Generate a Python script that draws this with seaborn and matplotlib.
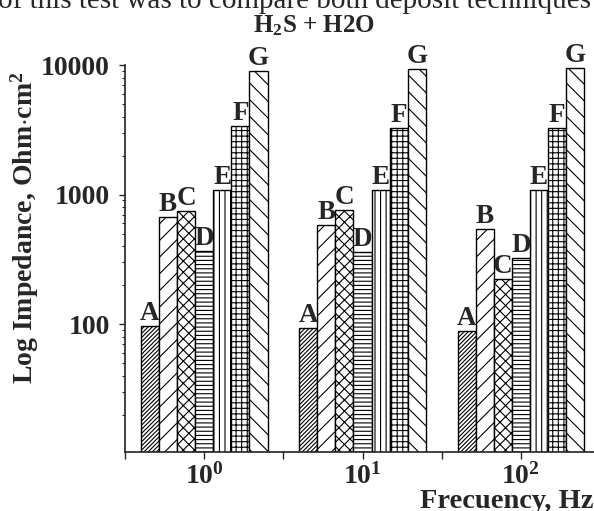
import numpy as np
import pandas as pd
import matplotlib
matplotlib.use("Agg")
import matplotlib.pyplot as plt
import seaborn as sns

# impedance, one list per sample, ordered 1 / 10 / 100 Hz
freqs = ["1", "10", "100"]
freq_labels = [r"$\mathbf{10^{0}}$", r"$\mathbf{10^{1}}$", r"$\mathbf{10^{2}}$"]
samples = ["A", "B", "C", "D", "E", "F", "G"]
imp_A = [96, 93, 88]
imp_B = [677, 587, 544]
imp_C = [740, 762, 221]
imp_D = [368, 360, 324]
imp_E = [1093, 1093, 1093]
imp_F = [3404, 3250, 3250]
imp_G = [9040, 9300, 9480]
hatches = ["////////", "//", "xxx", "----", "|||", "+++", "\\\\"]

values = [imp_A, imp_B, imp_C, imp_D, imp_E, imp_F, imp_G]
df = pd.DataFrame(
    [(f, s, v[i]) for s, v in zip(samples, values) for i, f in enumerate(freqs)],
    columns=["freq", "sample", "imp"],
)

sns.set_style("ticks")
plt.rcParams["font.family"] = ["Liberation Serif", "DejaVu Serif"]
plt.rcParams["font.weight"] = "bold"
plt.rcParams["mathtext.fontset"] = "custom"
plt.rcParams["mathtext.rm"] = "Liberation Serif:bold"
plt.rcParams["mathtext.bf"] = "Liberation Serif:bold"
plt.rcParams["mathtext.it"] = "Liberation Serif:bold:italic"
plt.rcParams["hatch.linewidth"] = 0.8

fig = plt.figure(figsize=(5.94, 5.11), dpi=100)
ax = fig.add_axes([125 / 594, 1 - 452 / 511, 475 / 594, (452 - 65) / 511])

sns.barplot(data=df, x="freq", y="imp", hue="sample", order=freqs,
            hue_order=samples, palette=["white"] * 7, edgecolor="black",
            linewidth=1, width=0.8, legend=False, ax=ax)
ax.set_yscale("log")

for cont, name, h in zip(ax.containers, samples, hatches):
    for bar in cont:
        bar.set_hatch(h)
    ax.bar_label(cont, labels=[name] * len(freqs), padding=0, fontsize=19.5,
                 fontweight="bold")

ax.set_ylim(10.3, 10000)
ax.set_xlim(-0.5, 2.5)
ax.set_yticks([100, 1000, 10000])
ax.set_yticklabels(["100", "1000", "10000"])
ax.set_xticks([0, 1, 2])
ax.set_xticklabels(freq_labels)
ax.set_xticks([-0.5, 0.5, 1.5], minor=True)
ax.tick_params(axis="y", which="major", length=4, width=1, pad=7, labelsize=20)
ax.tick_params(axis="y", which="minor", length=2.5, width=0.8)
ax.tick_params(axis="x", which="both", length=5, width=1, pad=3, labelsize=20)
ax.set_xlabel("")
ax.set_ylabel("")
for side in ["top", "right"]:
    ax.spines[side].set_visible(False)
for side in ["left", "bottom"]:
    ax.spines[side].set_linewidth(1.2)
    ax.spines[side].set_color("#222222")

fig.text(25 / 594, 1 - 228 / 511, r"Log Impedance, Ohm$\cdot$cm$^{2}$",
         rotation=90, ha="center", va="center", fontsize=20, fontweight="bold")
fig.text(593 / 594, 1 - 508 / 511, "Frecuency, Hz", ha="right",
         va="baseline", fontsize=20.5, fontweight="bold")
fig.text(314 / 594, 1 - 32 / 511, r"H$_{2}$S + H2O", ha="center",
         va="baseline", fontsize=18, fontweight="bold")
fig.text(-2 / 594, 1 - 8 / 511, "of this test was to compare both deposit techniques",
         ha="left", va="baseline", fontsize=21, fontweight="normal")

fig.savefig("out.png", dpi=100)
